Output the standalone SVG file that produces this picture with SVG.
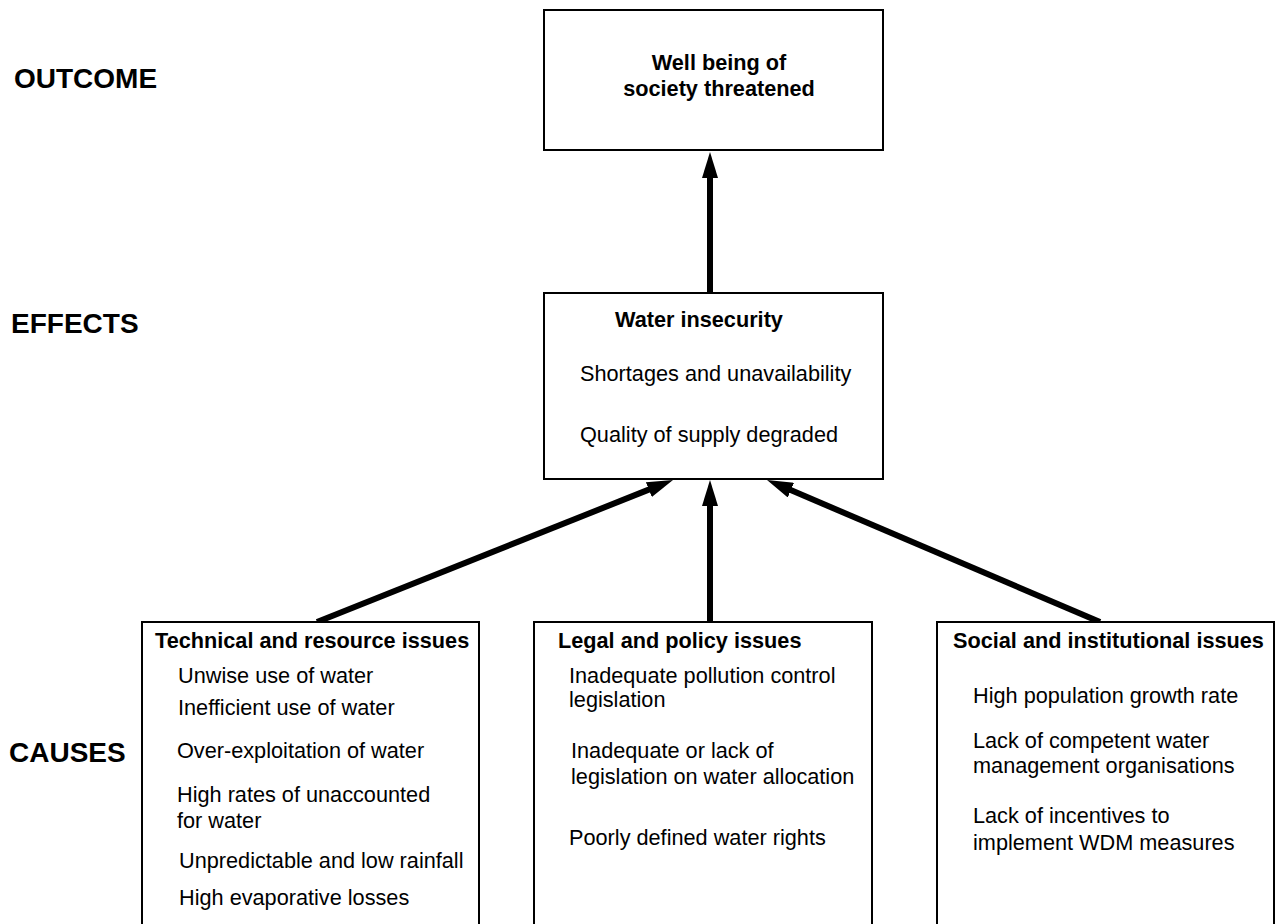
<svg xmlns="http://www.w3.org/2000/svg" width="1277" height="924" viewBox="0 0 1277 924">
  <style>
    .box { fill: #ffffff; stroke: #000000; stroke-width: 2; }
    .lbl { font-family: "Liberation Sans", Arial, sans-serif; font-weight: bold; font-size: 28px; fill: #000; }
    .hd { font-family: "Liberation Sans", Arial, sans-serif; font-weight: bold; font-size: 21.7px; fill: #000; }
    .tx { font-family: "Liberation Sans", Arial, sans-serif; font-size: 21.7px; fill: #000; }
    .conn { stroke: #000; stroke-width: 6; fill: none; marker-end: url(#ah); }
  </style>
  <defs>
    <marker id="ah" markerUnits="userSpaceOnUse" markerWidth="26" markerHeight="16" refX="6" refY="8" orient="auto">
      <path d="M0,0 L26,8 L0,16 z" fill="#000"/>
    </marker>
  </defs>
  <rect width="1277" height="924" fill="#ffffff"/>

  <g id="row-labels">
    <text class="lbl" x="14" y="88">OUTCOME</text>
    <text class="lbl" x="11" y="333">EFFECTS</text>
    <text class="lbl" x="9" y="762">CAUSES</text>
  </g>

  <g id="connectors">
    <line class="conn" x1="710" y1="293" x2="710" y2="172"/>
    <line class="conn" x1="710" y1="622" x2="710" y2="500"/>
    <line class="conn" x1="317" y1="622" x2="654.4" y2="487.4"/>
    <line class="conn" x1="1100" y1="622" x2="785.4" y2="487.8"/>
  </g>

  <g id="outcome">
    <rect class="box" x="544" y="10" width="339" height="140"/>
    <text class="hd" x="719" y="70" text-anchor="middle">Well being of</text>
    <text class="hd" x="719" y="96" text-anchor="middle">society threatened</text>
  </g>

  <g id="effects">
    <rect class="box" x="544" y="293" width="339" height="186"/>
    <text class="hd" x="615" y="327">Water insecurity</text>
    <text class="tx" x="580" y="381">Shortages and unavailability</text>
    <text class="tx" x="580" y="442">Quality of supply degraded</text>
  </g>

  <g id="technical">
    <rect class="box" x="142" y="622" width="337" height="320"/>
    <text class="hd" x="155" y="648">Technical and resource issues</text>
    <text class="tx" x="178" y="683">Unwise use of water</text>
    <text class="tx" x="178" y="715">Inefficient use of water</text>
    <text class="tx" x="177" y="758">Over-exploitation of water</text>
    <text class="tx" x="177" y="802">High rates of unaccounted</text>
    <text class="tx" x="177" y="828">for water</text>
    <text class="tx" x="179" y="868">Unpredictable and low rainfall</text>
    <text class="tx" x="179" y="905">High evaporative losses</text>
  </g>

  <g id="legal">
    <rect class="box" x="534" y="622" width="338" height="320"/>
    <text class="hd" x="558" y="648">Legal and policy issues</text>
    <text class="tx" x="569" y="683">Inadequate pollution control</text>
    <text class="tx" x="569" y="707">legislation</text>
    <text class="tx" x="571" y="758">Inadequate or lack of</text>
    <text class="tx" x="571" y="784">legislation on water allocation</text>
    <text class="tx" x="569" y="845">Poorly defined water rights</text>
  </g>

  <g id="social">
    <rect class="box" x="937" y="622" width="337" height="320"/>
    <text class="hd" x="953" y="648">Social and institutional issues</text>
    <text class="tx" x="973" y="703">High population growth rate</text>
    <text class="tx" x="973" y="748">Lack of competent water</text>
    <text class="tx" x="973" y="773">management organisations</text>
    <text class="tx" x="973" y="823">Lack of incentives to</text>
    <text class="tx" x="973" y="850">implement WDM measures</text>
  </g>
</svg>
